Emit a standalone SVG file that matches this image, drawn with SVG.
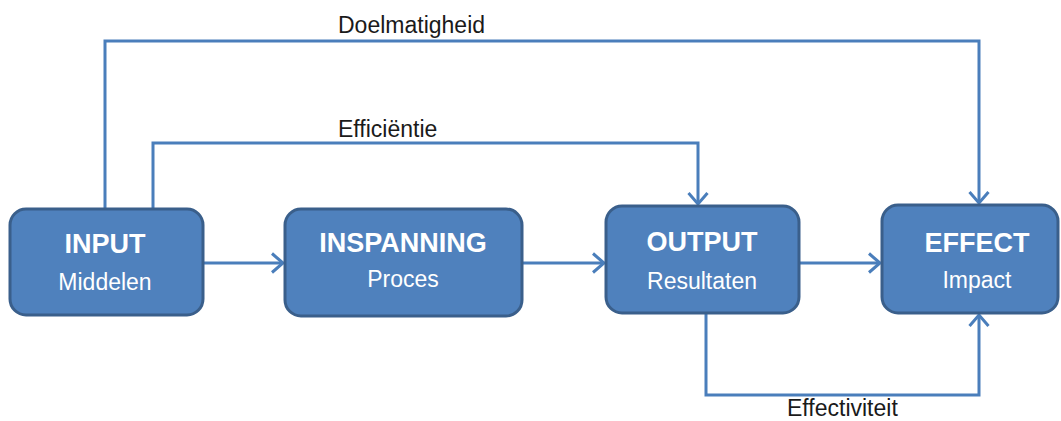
<svg xmlns="http://www.w3.org/2000/svg" width="1061" height="421" viewBox="0 0 1061 421">
<style>
.box{fill:#4f81bd;stroke:#3a5f8b;stroke-width:3}
.t1{font-family:"Liberation Sans",Arial,sans-serif;font-weight:bold;font-size:27px;fill:#fff;text-anchor:middle}
.t2{font-family:"Liberation Sans",Arial,sans-serif;font-size:23px;fill:#fff;text-anchor:middle}
.lbl{font-family:"Liberation Sans",Arial,sans-serif;font-size:23px;fill:#1a1a1a}
.con{fill:none;stroke:#4a7ebb;stroke-width:3}
</style>
<defs>
<marker id="arr" markerUnits="userSpaceOnUse" markerWidth="22" markerHeight="24" refX="13" refY="10" orient="auto" viewBox="0 0 22 20">
<path d="M2,0.5 L13,10 L2,19.5" fill="none" stroke="#4a7ebb" stroke-width="3" stroke-linejoin="miter"/>
</marker>
</defs>
<rect width="1061" height="421" fill="#fff"/>
<g id="connectors">
<path class="con" d="M105,209 V41 H979 V203" marker-end="url(#arr)"/>
<path class="con" d="M153,209 V143 H698 V204" marker-end="url(#arr)"/>
<path class="con" d="M203,263 H283" marker-end="url(#arr)"/>
<path class="con" d="M522,263 H604" marker-end="url(#arr)"/>
<path class="con" d="M799,263 H880" marker-end="url(#arr)"/>
<path class="con" d="M706,313 V395 H979 V315" marker-end="url(#arr)"/>
<text class="lbl" x="338" y="33">Doelmatigheid</text>
<text class="lbl" x="338" y="137">Efficiëntie</text>
<text class="lbl" x="787" y="416">Effectiviteit</text>
</g>
<g id="input">
<rect class="box" x="10" y="209" width="193" height="106" rx="16"/>
<text class="t1" x="105" y="253">INPUT</text>
<text class="t2" x="105" y="290">Middelen</text>
</g>
<g id="inspanning">
<rect class="box" x="285" y="209" width="237" height="107" rx="16"/>
<text class="t1" x="403" y="252">INSPANNING</text>
<text class="t2" x="403" y="287">Proces</text>
</g>
<g id="output">
<rect class="box" x="606" y="206" width="193" height="107" rx="16"/>
<text class="t1" x="702" y="251">OUTPUT</text>
<text class="t2" x="702" y="289">Resultaten</text>
</g>
<g id="effect">
<rect class="box" x="882" y="205" width="176" height="108" rx="16"/>
<text class="t1" x="977" y="252">EFFECT</text>
<text class="t2" x="977" y="288">Impact</text>
</g>
</svg>
